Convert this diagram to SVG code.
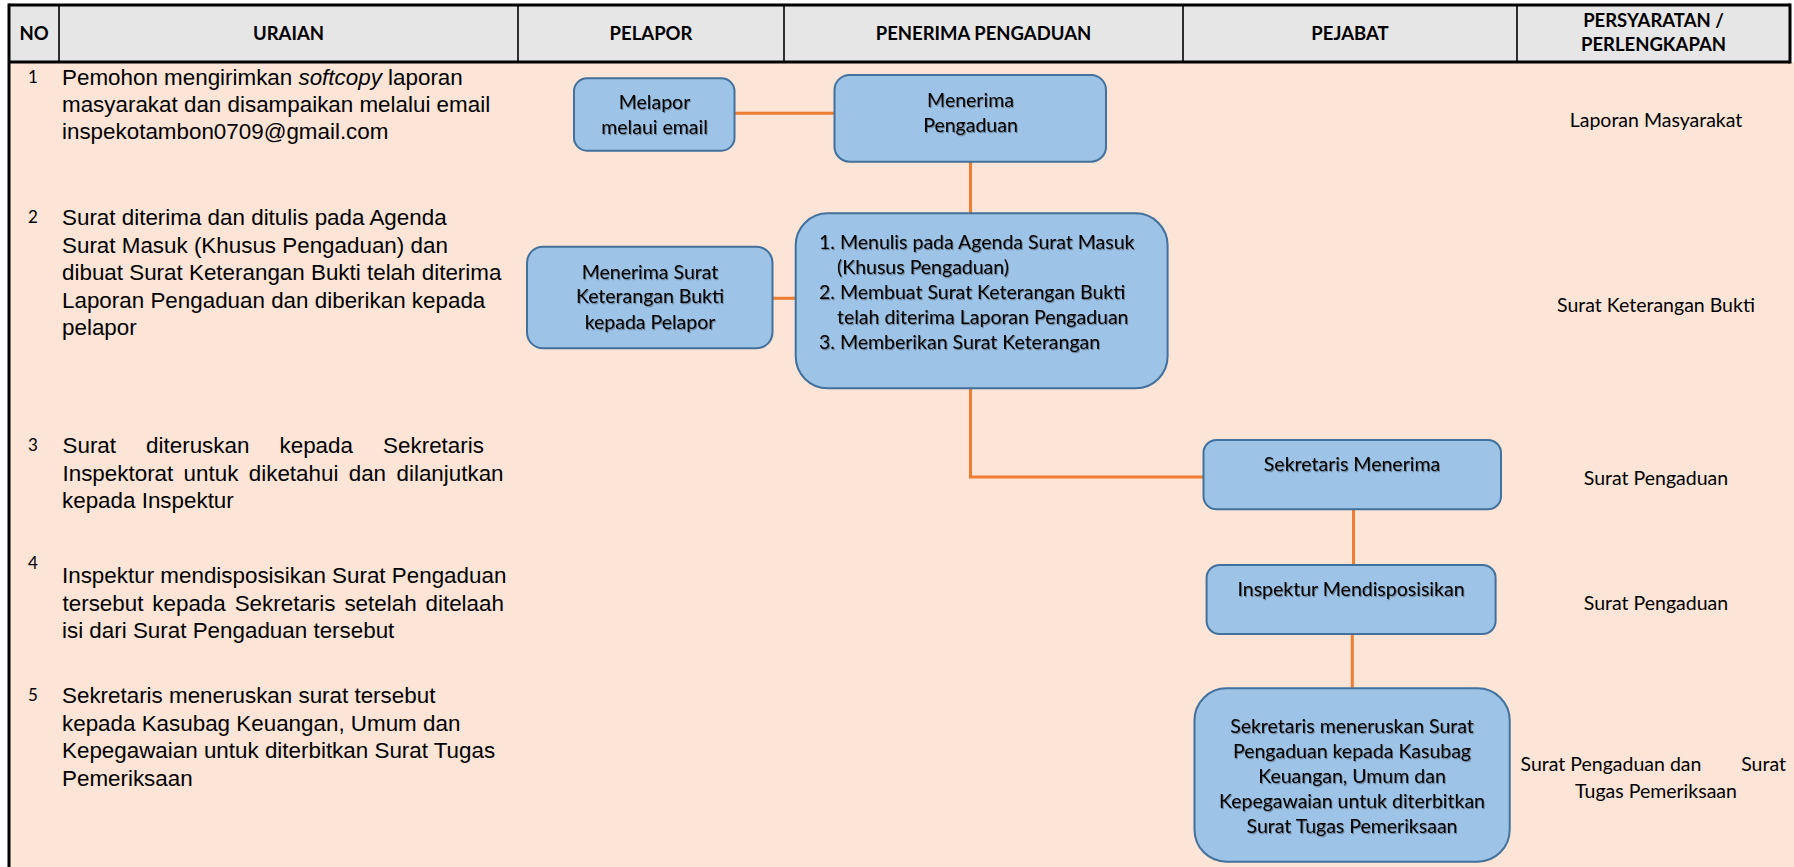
<svg xmlns="http://www.w3.org/2000/svg" width="1794" height="867" viewBox="0 0 1794 867">
<defs>
<filter id="tshadow" x="-5%" y="-20%" width="110%" height="140%">
<feDropShadow dx="1" dy="1.2" stdDeviation="0.6" flood-color="#000" flood-opacity="0.35"/>
</filter>
</defs>
<style>
.hdrbg{fill:#E7E6E6}
.body{fill:#FCE4D6}
.bd{stroke:#000;stroke-width:3;fill:none}
.dv{stroke:#000;stroke-width:1.6;fill:none}
.ht{font-family:Lato,"Liberation Sans",sans-serif;font-weight:bold;font-size:18.5px;fill:#000;text-anchor:middle}
.tx{font-family:"Liberation Sans",Arial,sans-serif;font-size:22.4px;fill:#000}
.num{font-family:Lato,"Liberation Sans",sans-serif;font-size:17px;fill:#000;text-anchor:middle}
.box{fill:#9DC3E6;stroke:#41719C;stroke-width:2}
.bt{font-family:Lato,"Liberation Sans",sans-serif;font-size:19.5px;fill:#000;text-anchor:middle;filter:url(#tshadow)}
.bl{font-family:Lato,"Liberation Sans",sans-serif;font-size:19.5px;fill:#000;filter:url(#tshadow)}
.req{font-family:Lato,"Liberation Sans",sans-serif;font-size:19.5px;fill:#000}
.con{stroke:#ED7D31;stroke-width:3;fill:none}
</style>
<rect x="0" y="0" width="1794" height="867" fill="#FFFFFF"/>
<g id="table">
<rect class="body" x="9" y="62" width="1785" height="805"/>
<rect class="hdrbg" x="9" y="5" width="1781" height="57"/>
<line class="bd" x1="9" y1="5" x2="1790" y2="5"/>
<line class="bd" x1="9" y1="62" x2="1790" y2="62"/>
<line class="bd" x1="9" y1="3.5" x2="9" y2="867"/>
<line class="bd" x1="1790" y1="3.5" x2="1790" y2="63.5"/>
<line class="dv" x1="59" y1="5" x2="59" y2="62"/>
<line class="dv" x1="518" y1="5" x2="518" y2="62"/>
<line class="dv" x1="784" y1="5" x2="784" y2="62"/>
<line class="dv" x1="1183" y1="5" x2="1183" y2="62"/>
<line class="dv" x1="1517" y1="5" x2="1517" y2="62"/>
<text class="ht" x="34" y="40">NO</text>
<text class="ht" x="288.5" y="40">URAIAN</text>
<text class="ht" x="651" y="40">PELAPOR</text>
<text class="ht" x="983.5" y="40">PENERIMA PENGADUAN</text>
<text class="ht" x="1350" y="40">PEJABAT</text>
<text class="ht" x="1653.5" y="26.5">PERSYARATAN /</text>
<text class="ht" x="1653.5" y="50.5">PERLENGKAPAN</text>
</g>
<g id="uraian">
<text class="num" x="33" y="83">1</text>
<text class="tx" x="62" y="85">Pemohon mengirimkan <tspan font-style="italic">softcopy</tspan> laporan</text>
<text class="tx" x="62" y="112">masyarakat dan disampaikan melalui email</text>
<text class="tx" x="62" y="139">inspekotambon0709@gmail.com</text>
<text class="num" x="33" y="223">2</text>
<text class="tx" x="62" y="225">Surat diterima dan ditulis pada Agenda</text>
<text class="tx" x="62" y="252.5">Surat Masuk (Khusus Pengaduan) dan</text>
<text class="tx" x="62" y="280">dibuat Surat Keterangan Bukti telah diterima</text>
<text class="tx" x="62" y="307.5">Laporan Pengaduan dan diberikan kepada</text>
<text class="tx" x="62" y="335">pelapor</text>
<text class="num" x="33" y="451">3</text>
<text class="tx" y="453"><tspan x="62.5">Surat</tspan><tspan x="146.1">diteruskan</tspan><tspan x="279.5">kepada</tspan><tspan x="383.1">Sekretaris</tspan></text>
<text class="tx" y="480.5"><tspan x="62.5">Inspektorat</tspan><tspan x="183.6">untuk</tspan><tspan x="248.8">diketahui</tspan><tspan x="348.7">dan</tspan><tspan x="396.5">dilanjutkan</tspan></text>
<text class="tx" x="62" y="508">kepada Inspektur</text>
<text class="num" x="33" y="569">4</text>
<text class="tx" x="62" y="583">Inspektur mendisposisikan Surat Pengaduan</text>
<text class="tx" y="610.5"><tspan x="62.5">tersebut</tspan><tspan x="152.3">kepada</tspan><tspan x="234.7">Sekretaris</tspan><tspan x="344.4">setelah</tspan><tspan x="425.5">ditelaah</tspan></text>
<text class="tx" x="62" y="638">isi dari Surat Pengaduan tersebut</text>
<text class="num" x="33" y="701">5</text>
<text class="tx" x="62" y="703">Sekretaris meneruskan surat tersebut</text>
<text class="tx" x="62" y="730.5">kepada Kasubag Keuangan, Umum dan</text>
<text class="tx" x="62" y="758">Kepegawaian untuk diterbitkan Surat Tugas</text>
<text class="tx" x="62" y="785.5">Pemeriksaan</text>
</g>
<g id="connectors">
<path class="con" d="M734.5 113.3 H834.5"/>
<path class="con" d="M970.5 161.7 V213.3"/>
<path class="con" d="M772.5 298.3 H795.7"/>
<path class="con" d="M970.5 388.3 V477 H1203.5"/>
<path class="con" d="M1353.5 509.3 V565"/>
<path class="con" d="M1352.3 634 V688.3"/>
</g>
<g id="n1">
<rect class="box" x="574" y="78.3" width="160.5" height="72.4" rx="13"/>
<text class="bt" x="654.5" y="109">Melapor</text>
<text class="bt" x="654.5" y="134">melaui email</text>
</g>
<g id="n2">
<rect class="box" x="834.5" y="75" width="271.5" height="86.7" rx="15"/>
<text class="bt" x="970.5" y="107">Menerima</text>
<text class="bt" x="970.5" y="132">Pengaduan</text>
</g>
<g id="n3">
<rect class="box" x="795.7" y="213.3" width="371.9" height="175" rx="32"/>
<text class="bl" x="819" y="249">1. Menulis pada Agenda Surat Masuk</text>
<text class="bl" x="837" y="274">(Khusus Pengaduan)</text>
<text class="bl" x="819" y="299">2. Membuat Surat Keterangan Bukti</text>
<text class="bl" x="837" y="324">telah diterima Laporan Pengaduan</text>
<text class="bl" x="819" y="349">3. Memberikan Surat Keterangan</text>
</g>
<g id="n4">
<rect class="box" x="527" y="246.7" width="245.5" height="101.6" rx="16"/>
<text class="bt" x="650" y="279">Menerima Surat</text>
<text class="bt" x="650" y="303">Keterangan Bukti</text>
<text class="bt" x="650" y="329">kepada Pelapor</text>
</g>
<g id="n5">
<rect class="box" x="1203.5" y="440" width="297.5" height="69.3" rx="13"/>
<text class="bt" x="1352" y="471">Sekretaris Menerima</text>
</g>
<g id="n6">
<rect class="box" x="1206.6" y="565" width="289" height="69" rx="13"/>
<text class="bt" x="1351" y="596">Inspektur Mendisposisikan</text>
</g>
<g id="n7">
<rect class="box" x="1194.5" y="688.3" width="315.2" height="173.4" rx="32"/>
<text class="bt" x="1352" y="733">Sekretaris meneruskan Surat</text>
<text class="bt" x="1352" y="758">Pengaduan kepada Kasubag</text>
<text class="bt" x="1352" y="783">Keuangan, Umum dan</text>
<text class="bt" x="1352" y="808">Kepegawaian untuk diterbitkan</text>
<text class="bt" x="1352" y="833">Surat Tugas Pemeriksaan</text>
</g>
<g id="persyaratan">
<text class="req" x="1656" y="127" text-anchor="middle">Laporan Masyarakat</text>
<text class="req" x="1656" y="312" text-anchor="middle">Surat Keterangan Bukti</text>
<text class="req" x="1656" y="485" text-anchor="middle">Surat Pengaduan</text>
<text class="req" x="1656" y="610" text-anchor="middle">Surat Pengaduan</text>
<text class="req" x="1520.6" y="771">Surat Pengaduan dan</text>
<text class="req" x="1786" y="771" text-anchor="end">Surat</text>
<text class="req" x="1656" y="798" text-anchor="middle">Tugas Pemeriksaan</text>
</g>
</svg>
